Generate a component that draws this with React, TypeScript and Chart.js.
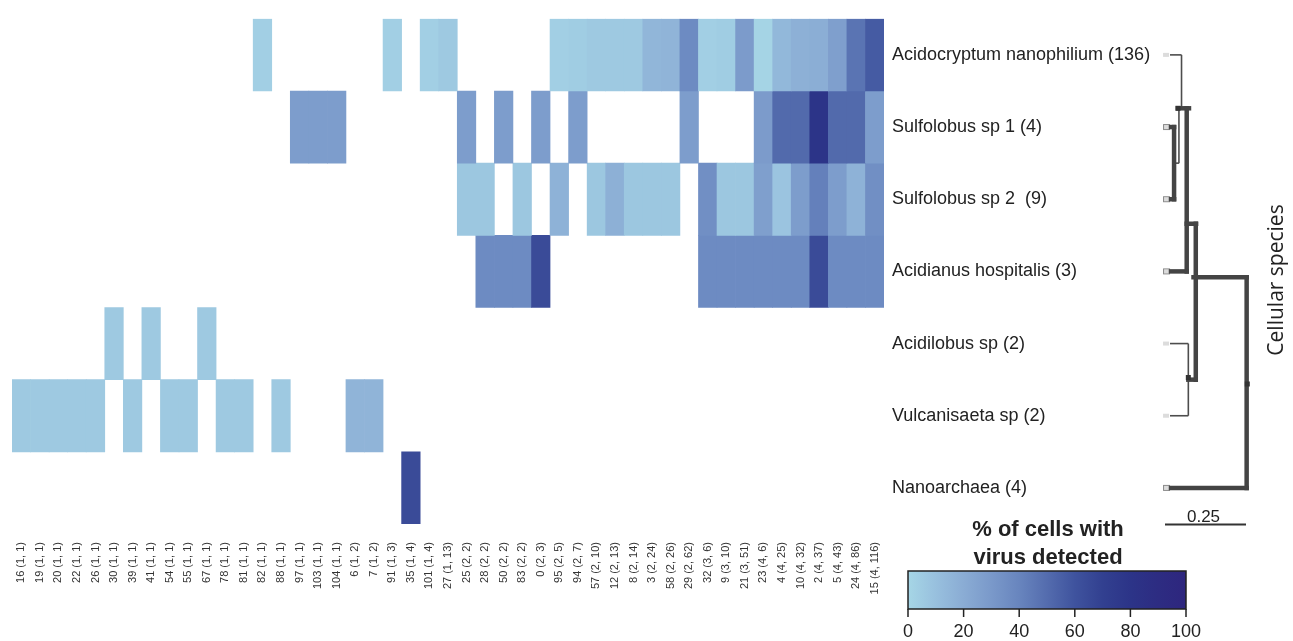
import React, { useEffect, useRef } from "react";
import { Chart, registerables } from "chart.js";

Chart.register(...registerables);

const _ = null;

const columnLabels = [
  "16 (1, 1)", "19 (1, 1)", "20 (1, 1)", "22 (1, 1)", "26 (1, 1)", "30 (1, 1)", "39 (1, 1)", "41 (1, 1)",
  "54 (1, 1)", "55 (1, 1)", "67 (1, 1)", "78 (1, 1)", "81 (1, 1)", "82 (1, 1)", "88 (1, 1)", "97 (1, 1)",
  "103 (1, 1)", "104 (1, 1)", "6 (1, 2)", "7 (1, 2)", "91 (1, 3)", "35 (1, 4)", "101 (1, 4)", "27 (1, 13)",
  "25 (2, 2)", "28 (2, 2)", "50 (2, 2)", "83 (2, 2)", "0 (2, 3)", "95 (2, 5)", "94 (2, 7)", "57 (2, 10)",
  "12 (2, 13)", "8 (2, 14)", "3 (2, 24)", "58 (2, 26)", "29 (2, 62)", "32 (3, 6)", "9 (3, 10)", "21 (3, 51)",
  "23 (4, 6)", "4 (4, 25)", "10 (4, 32)", "2 (4, 37)", "5 (4, 43)", "24 (4, 86)", "15 (4, 116)",
];

const speciesLabels = [
  "Acidocryptum nanophilium (136)",
  "Sulfolobus sp 1 (4)",
  "Sulfolobus sp 2  (9)",
  "Acidianus hospitalis (3)",
  "Acidilobus sp (2)",
  "Vulcanisaeta sp (2)",
  "Nanoarchaea (4)",
];

// % of cells with virus detected (null = not detected)
const acidocryptum = [_, _, _, _, _, _, _, _, _, _, _, _, _, 3, _, _, _, _, _, _, 3, _, 3, 6, _, _, _, _, _, 3, 4, 6, 6, 6, 15, 16, 37, 3, 4, 29, 1, 14, 18, 19, 27, 47, 57];
const sulfolobus1 = [_, _, _, _, _, _, _, _, _, _, _, _, _, _, _, 28, 28, 28, _, _, _, _, _, _, 28, _, 28, _, 28, _, 28, _, _, _, _, _, 28, _, _, _, 29, 51, 51, 80, 51, 51, 28];
const sulfolobus2 = [_, _, _, _, _, _, _, _, _, _, _, _, _, _, _, _, _, _, _, _, _, _, _, _, 7, 7, _, 7, _, 17, _, 7, 18, 7, 7, 7, _, 35, 7, 7, 27, 8, 28, 42, 28, 17, 35];
const acidianus = [_, _, _, _, _, _, _, _, _, _, _, _, _, _, _, _, _, _, _, _, _, _, _, _, _, 37, 37, 37, 64, _, _, _, _, _, _, _, _, 37, 37, 37, 37, 37, 37, 64, 37, 37, 37];
const acidilobus = [_, _, _, _, _, 6, _, 6, _, _, 6, _, _, _, _, _, _, _, _, _, _, _, _, _, _, _, _, _, _, _, _, _, _, _, _, _, _, _, _, _, _, _, _, _, _, _, _];
const vulcanisaeta = [6, 6, 6, 6, 6, _, 6, _, 6, 6, _, 6, 6, _, 6, _, _, _, 16, 16, _, _, _, _, _, _, _, _, _, _, _, _, _, _, _, _, _, _, _, _, _, _, _, _, _, _, _];
const nanoarchaea = [_, _, _, _, _, _, _, _, _, _, _, _, _, _, _, _, _, _, _, _, _, 64, _, _, _, _, _, _, _, _, _, _, _, _, _, _, _, _, _, _, _, _, _, _, _, _, _];

const rowValues = [acidocryptum, sulfolobus1, sulfolobus2, acidianus, acidilobus, vulcanisaeta, nanoarchaea];

const colorbarTicks = [0, 20, 40, 60, 80, 100];
const scaleBarValue = 0.25;

// tree branches: [distance1, row1, distance2, row2]
const thinBranches = [
  [0, 0, 0.051, 0], [0.051, 0, 0.051, 0.74],
  [0.043, 0.74, 0.043, 1.5], [0.028, 1.5, 0.043, 1.5],
  [0, 4, 0.072, 4], [0.072, 4, 0.072, 5], [0, 5, 0.072, 5],
];
const thickBranches = [
  [0.04, 0.74, 0.074, 0.74], [0.067, 0.74, 0.067, 3], [0, 3, 0.067, 3],
  [0, 1, 0.028, 1], [0.028, 1, 0.028, 2], [0, 2, 0.028, 2],
  [0.067, 2.34, 0.096, 2.34], [0.095, 2.34, 0.095, 4.5], [0.072, 4.5, 0.095, 4.5],
  [0.088, 3.08, 0.252, 3.08], [0.252, 3.08, 0.252, 6], [0, 6, 0.252, 6],
];
const treeNodes = [[0.04, 0.74], [0.072, 4.47], [0.254, 4.56]];
const thickLeaves = [1, 2, 3, 6];

const colorStops = [
  [0, 166, 214, 230], [10, 152, 192, 222], [20, 138, 172, 212], [30, 122, 153, 202],
  [40, 104, 133, 190], [50, 84, 108, 174], [60, 63, 83, 158], [70, 50, 64, 144],
  [80, 44, 52, 136], [90, 45, 44, 130], [100, 46, 38, 126],
];

function rgbFor(v: number): number[] {
  for (let i = 0; i < colorStops.length - 1; i++) {
    const a = colorStops[i], b = colorStops[i + 1];
    if (v <= b[0]) {
      const t = (v - a[0]) / (b[0] - a[0]);
      return [1, 2, 3].map((k) => Math.round(a[k] + (b[k] - a[k]) * t));
    }
  }
  const l = colorStops[colorStops.length - 1];
  return [l[1], l[2], l[3]];
}
function colorFor(v: number | null): string {
  if (v == null) return "rgba(0,0,0,0)";
  const c = rgbFor(v);
  return `rgb(${c[0]},${c[1]},${c[2]})`;
}

const FONT = "'Liberation Sans', Arial, Helvetica, sans-serif";

const overlayPlugin = {
  id: "overlay",
  afterDraw(chart: any) {
    const ctx: CanvasRenderingContext2D = chart.ctx;
    const yS = chart.scales.y;
    const area = chart.chartArea;
    const leafX = area.right + 281;
    const unit = 324;
    const px = (d: number) => leafX + d * unit;
    const py = (r: number) => yS.getPixelForValue(r + 0.5);
    ctx.save();

    // leaf markers
    for (let r = 0; r < speciesLabels.length; r++) {
      const y = py(r);
      ctx.fillStyle = "#dcdcdc";
      ctx.fillRect(px(-0.006), y - 2, 6, 4);
      if (thickLeaves.includes(r)) {
        ctx.strokeStyle = "#8a8a8a";
        ctx.lineWidth = 1;
        ctx.strokeRect(px(-0.006) + 0.5, y - 2.5, 6, 5);
      }
    }

    ctx.strokeStyle = "#4d4d4d";
    ctx.lineWidth = 1.6;
    ctx.lineCap = "butt";
    for (const [d1, r1, d2, r2] of thinBranches) {
      ctx.beginPath();
      ctx.moveTo(px(d1) + (d1 === 0 ? 5 : 0), py(r1));
      ctx.lineTo(px(d2), py(r2));
      ctx.stroke();
    }
    ctx.strokeStyle = "#444";
    ctx.lineWidth = 4.5;
    ctx.lineCap = "square";
    for (const [d1, r1, d2, r2] of thickBranches) {
      ctx.beginPath();
      ctx.moveTo(px(d1) + (d1 === 0 ? 6 : 0), py(r1));
      ctx.lineTo(px(d2), py(r2));
      ctx.stroke();
    }
    ctx.fillStyle = "#333";
    for (const [d, r] of treeNodes) {
      ctx.fillRect(px(d) - 2.5, py(r) - 2.5, 5, 5);
    }

    // scale bar
    ctx.strokeStyle = "#333";
    ctx.lineWidth = 2;
    ctx.lineCap = "butt";
    ctx.beginPath();
    ctx.moveTo(px(0), 524.5);
    ctx.lineTo(px(scaleBarValue), 524.5);
    ctx.stroke();
    ctx.fillStyle = "#222";
    ctx.font = `17px ${FONT}`;
    ctx.textAlign = "center";
    ctx.textBaseline = "alphabetic";
    ctx.fillText(String(scaleBarValue), px(scaleBarValue / 2) - 2, 522);

    // cellular species title
    ctx.save();
    ctx.translate(1277, 280);
    ctx.rotate(-Math.PI / 2);
    ctx.font = `21px 'Open Sans', ${FONT}`;
    ctx.textAlign = "center";
    ctx.textBaseline = "middle";
    ctx.fillStyle = "#222";
    ctx.fillText("Cellular species", 0, 0);
    ctx.restore();

    // colour bar
    const cbL = 908, cbR = 1186, cbT = 571, cbB = 609;
    const grad = ctx.createLinearGradient(cbL, 0, cbR, 0);
    for (const s of colorStops) grad.addColorStop(s[0] / 100, `rgb(${s[1]},${s[2]},${s[3]})`);
    ctx.fillStyle = grad;
    ctx.fillRect(cbL, cbT, cbR - cbL, cbB - cbT);
    ctx.strokeStyle = "#222";
    ctx.lineWidth = 1.5;
    ctx.strokeRect(cbL, cbT, cbR - cbL, cbB - cbT);
    ctx.font = `18px ${FONT}`;
    ctx.fillStyle = "#222";
    ctx.textAlign = "center";
    ctx.textBaseline = "alphabetic";
    for (const t of colorbarTicks) {
      const x = cbL + ((cbR - cbL) * t) / 100;
      ctx.beginPath();
      ctx.moveTo(x, cbB);
      ctx.lineTo(x, cbB + 8);
      ctx.stroke();
      ctx.fillText(String(t), x, 637);
    }
    ctx.font = `bold 22px ${FONT}`;
    ctx.fillStyle = "#222";
    ctx.fillText("% of cells with", 1048, 536);
    ctx.fillText("virus detected", 1048, 564);

    ctx.restore();
  },
};

export default function App() {
  const ref = useRef<HTMLCanvasElement>(null);
  useEffect(() => {
    if (!ref.current) return;
    const datasets = rowValues.map((vals, r) => ({
      label: speciesLabels[r],
      data: vals.map((v) => (v == null ? null : [r, r + 1])),
      backgroundColor: vals.map((v) => colorFor(v)),
      borderWidth: 0,
      barPercentage: 1,
      categoryPercentage: 1,
      grouped: false,
    }));
    const chart = new Chart(ref.current, {
      type: "bar",
      data: { labels: columnLabels, datasets: datasets as any },
      options: {
        responsive: false,
        animation: false,
        events: [],
        layout: { padding: { left: 12, top: 15, right: 0, bottom: 0 } },
        plugins: { legend: { display: false }, tooltip: { enabled: false } },
        scales: {
          x: {
            type: "category",
            grid: { display: false, drawTicks: false },
            border: { display: false },
            ticks: {
              autoSkip: false,
              minRotation: 90,
              maxRotation: 90,
              padding: 18,
              color: "#333",
              font: { size: 11, family: FONT },
            },
            afterFit: (s: any) => { s.height = 117; },
          },
          y: { type: "linear", min: 0, max: 7, reverse: true, display: false },
          y2: {
            type: "category",
            axis: "y",
            labels: speciesLabels,
            position: "right",
            offset: true,
            grid: { display: false, drawTicks: false },
            border: { display: false },
            ticks: { padding: 8, color: "#222", font: { size: 18, family: FONT } },
            afterFit: (s: any) => { s.width = 409; },
          },
        } as any,
      },
      plugins: [overlayPlugin],
    });
    return () => chart.destroy();
  }, []);
  return (
    <div style={{ position: "absolute", left: 0, top: 0, width: 1293, height: 641, background: "#fff" }}>
      <canvas ref={ref} width={1293} height={641} />
    </div>
  );
}
